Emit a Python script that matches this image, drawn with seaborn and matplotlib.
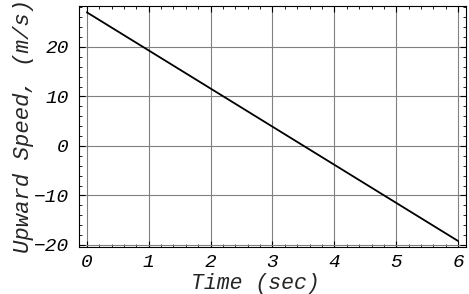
import numpy as np
import pandas as pd
import matplotlib
matplotlib.use("Agg")
import matplotlib.pyplot as plt
import seaborn as sns
from matplotlib.ticker import MultipleLocator

# data
time_sec = [0.0, 6.0]
speed_ms = [27.0, -19.2]

df = pd.DataFrame({"Time (sec)": time_sec, "Upward Speed, (m/s)": speed_ms})

sns.set_theme(style="white")
plt.rcParams["font.family"] = ["Liberation Mono", "DejaVu Sans Mono"]

fig = plt.figure(figsize=(4.69, 2.94), dpi=100)
ax = fig.add_axes([0.168, 0.160, 0.826, 0.820])

sns.lineplot(data=df, x="Time (sec)", y="Upward Speed, (m/s)",
             color="black", linewidth=1.3, ax=ax)

ax.set_xlim(-0.13, 6.13)
ax.set_ylim(-20.4, 28.3)
ax.xaxis.set_major_locator(MultipleLocator(1))
ax.xaxis.set_minor_locator(MultipleLocator(0.2))
ax.yaxis.set_major_locator(MultipleLocator(10))
ax.yaxis.set_minor_locator(MultipleLocator(2))

ax.grid(True, which="major", color="#808080", linewidth=0.8)
ax.tick_params(which="both", direction="in", top=True, right=True,
               bottom=True, left=True, colors="black", labelsize=14)
ax.tick_params(which="major", length=4, width=0.8)
ax.tick_params(which="minor", length=2, width=0.6)
ax.tick_params(axis="x", which="major", pad=5)
ax.tick_params(axis="y", which="major", pad=7)

for lab in ax.get_xticklabels() + ax.get_yticklabels():
    lab.set_fontstyle("italic")

for sp in ax.spines.values():
    sp.set_color("black")
    sp.set_linewidth(0.8)

ax.set_xlabel("Time (sec)", fontsize=15.5, fontstyle="italic")
ax.xaxis.set_label_coords(0.455, -0.108)
ax.set_ylabel("Upward Speed, (m/s)", fontsize=16, fontstyle="italic", labelpad=0)

fig.savefig("out.png", dpi=100)
